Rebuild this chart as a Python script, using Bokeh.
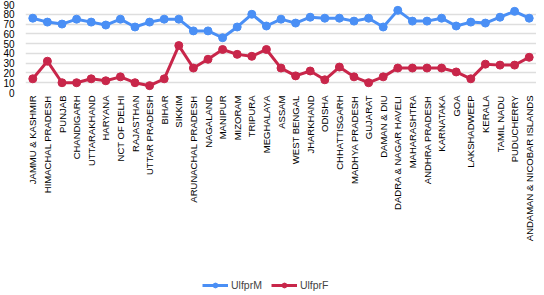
from bokeh.plotting import figure
from bokeh.models import Legend, LegendItem, FactorRange, SingleIntervalTicker
from bokeh.layouts import column
from bokeh.embed import file_html
from bokeh.resources import INLINE
import math

states = ["JAMMU & KASHMIR", "HIMACHAL PRADESH", "PUNJAB", "CHANDIGARH", "UTTARAKHAND",
          "HARYANA", "NCT OF DELHI", "RAJASTHAN", "UTTAR PRADESH", "BIHAR", "SIKKIM",
          "ARUNACHAL PRADESH", "NAGALAND", "MANIPUR", "MIZORAM", "TRIPURA", "MEGHALAYA",
          "ASSAM", "WEST BENGAL", "JHARKHAND", "ODISHA", "CHHATTISGARH", "MADHYA PRADESH",
          "GUJARAT", "DAMAN & DIU", "DADRA & NAGAR HAVELI", "MAHARASHTRA", "ANDHRA PRADESH",
          "KARNATAKA", "GOA", "LAKSHADWEEP", "KERALA", "TAMIL NADU", "PUDUCHERRY",
          "ANDAMAN & NICOBAR ISLANDS"]

ulfpr_m = [76, 72, 70, 75, 72, 69, 75, 67, 72, 75, 75, 63, 63, 56, 67, 80, 68, 75, 71,
           77, 76, 76, 73, 76, 67, 84, 73, 73, 76, 68, 72, 71, 77, 83, 76]
ulfpr_f = [14, 32, 10, 10, 14, 12, 16, 10, 7, 14, 48, 25, 34, 44, 39, 37, 44, 25, 17,
           22, 13, 26, 16, 10, 16, 25, 25, 25, 25, 21, 14, 29, 28, 28, 36]
series_names = ["UlfprM", "UlfprF"]

BLUE = "#4a8ff5"
RED = "#c8264a"
FONT = "Liberation Sans"

p = figure(x_range=FactorRange(factors=states, range_padding=0), y_range=(0, 90),
           width=536, height=265, output_backend="svg", toolbar_location=None,
           min_border_left=0, min_border_right=0, min_border_top=4, min_border_bottom=173)
p.outline_line_color = None

p.line(states, ulfpr_m, line_color=BLUE, line_width=3)
p.scatter(states, ulfpr_m, size=8, fill_color=BLUE, line_color=BLUE)
p.line(states, ulfpr_f, line_color=RED, line_width=3)
p.scatter(states, ulfpr_f, size=8, fill_color=RED, line_color=RED)

p.yaxis.ticker = SingleIntervalTicker(interval=10)
p.yaxis.axis_line_color = None
p.yaxis.major_tick_line_color = None
p.yaxis.minor_tick_line_color = None
p.yaxis.major_label_standoff = 5
p.yaxis.major_label_text_font = FONT
p.yaxis.major_label_text_font_size = "10px"
p.yaxis.major_label_text_color = "#000000"

p.xaxis.axis_line_color = None
p.xaxis.major_tick_line_color = None
p.xaxis.minor_tick_line_color = None
p.xaxis.major_tick_out = 0
p.xaxis.minor_tick_out = 0
p.xaxis.major_label_orientation = math.pi / 2
p.xaxis.major_label_standoff = 3
p.xaxis.major_label_text_font = FONT
p.xaxis.major_label_text_font_size = "9.5px"
p.xaxis.major_label_text_color = "#000000"

p.xgrid.grid_line_color = None
p.ygrid.grid_line_color = "#dedede"
p.ygrid.grid_line_width = 1.5

# legend strip below the chart (proxy renderers sit outside the visible range)
p2 = figure(width=536, height=28, x_range=(0, 1), y_range=(0, 1),
            output_backend="svg", toolbar_location=None,
            x_axis_type=None, y_axis_type=None, min_border=0)
p2.outline_line_color = None
off = [-100, -99]
lm = p2.line(x=off, y=off, line_color=BLUE, line_width=3)
cm = p2.scatter(x=off, y=off, size=8, fill_color=BLUE, line_color=BLUE)
lf = p2.line(x=off, y=off, line_color=RED, line_width=3)
cf = p2.scatter(x=off, y=off, size=8, fill_color=RED, line_color=RED)

legend = Legend(items=[LegendItem(label=series_names[0], renderers=[lm, cm]),
                       LegendItem(label=series_names[1], renderers=[lf, cf])],
                orientation="horizontal", location=(177, 2),
                label_text_font=FONT, label_text_font_size="10.5px",
                glyph_width=26, glyph_height=12, label_height=12, label_width=10,
                label_standoff=3, spacing=9,
                padding=2, margin=0, border_line_color=None, background_fill_alpha=0)
p2.add_layout(legend, "center")

open("out.html", "w").write(file_html(column(p, p2, spacing=0), INLINE))
